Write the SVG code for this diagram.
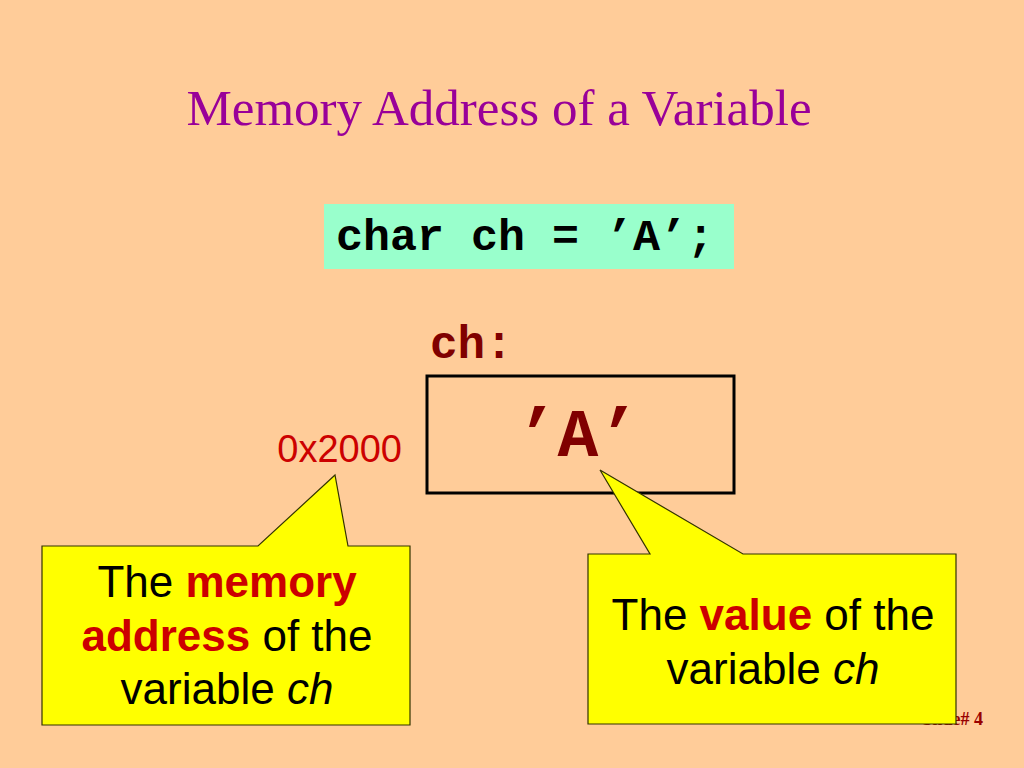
<svg xmlns="http://www.w3.org/2000/svg" width="1024" height="768" viewBox="0 0 1024 768">
<style>
.title{font-family:"Liberation Serif","Times New Roman",serif;font-size:51px;fill:#990099}
.code{font-family:"Liberation Mono","Courier New",monospace;font-weight:bold}
.sans{font-family:"Liberation Sans",Arial,sans-serif}
.call{fill:#FFFF00;stroke:#333300;stroke-width:1.2}
.ctext{font-family:"Liberation Sans",Arial,sans-serif;font-size:44px;fill:#000;text-anchor:middle}
.hl{fill:#CC0000;font-weight:bold}
</style>
<rect width="1024" height="768" fill="#FFCC99"/>
<text class="title" x="499" y="125" text-anchor="middle">Memory Address of a Variable</text>
<g id="code">
<rect x="324" y="204" width="410" height="65" fill="#99FFCC"/>
<text class="code" x="336" y="250" font-size="45" fill="#000">char ch = ’A’;</text>
</g>
<text x="983" y="725" font-size="18" font-weight="bold" fill="#990000" text-anchor="end" font-family="Liberation Serif,serif">Slide# 4</text>
<g id="variable">
<text class="code" x="430" y="358" font-size="46" fill="#800000">ch:</text>
<rect x="427" y="376" width="307" height="117" fill="none" stroke="#000" stroke-width="3"/>
<text class="code" x="578" y="456" font-size="68" fill="#800000" text-anchor="middle">’A’</text>
</g>
<g id="address">
<text class="sans" x="402" y="462" font-size="38" fill="#CC0000" text-anchor="end">0x2000</text>
</g>
<g id="callout-address">
<path class="call" d="M42,546 L258,546 L335,475 L348,546 L410,546 L410,725 L42,725 Z"/>
<text class="ctext" x="227" y="597">The <tspan class="hl">memory</tspan></text>
<text class="ctext" x="227" y="651"><tspan class="hl">address</tspan> of the</text>
<text class="ctext" x="227" y="704">variable <tspan font-style="italic">ch</tspan></text>
</g>
<g id="callout-value">
<path class="call" d="M588,554 L650,554 L600,470 L743,554 L956,554 L956,724 L588,724 Z"/>
<text class="ctext" x="773" y="630" font-size="44.5">The <tspan class="hl">value</tspan> of the</text>
<text class="ctext" x="773" y="684" font-size="44.5">variable <tspan font-style="italic">ch</tspan></text>
</g>
<g id="connectors"></g>
</svg>
